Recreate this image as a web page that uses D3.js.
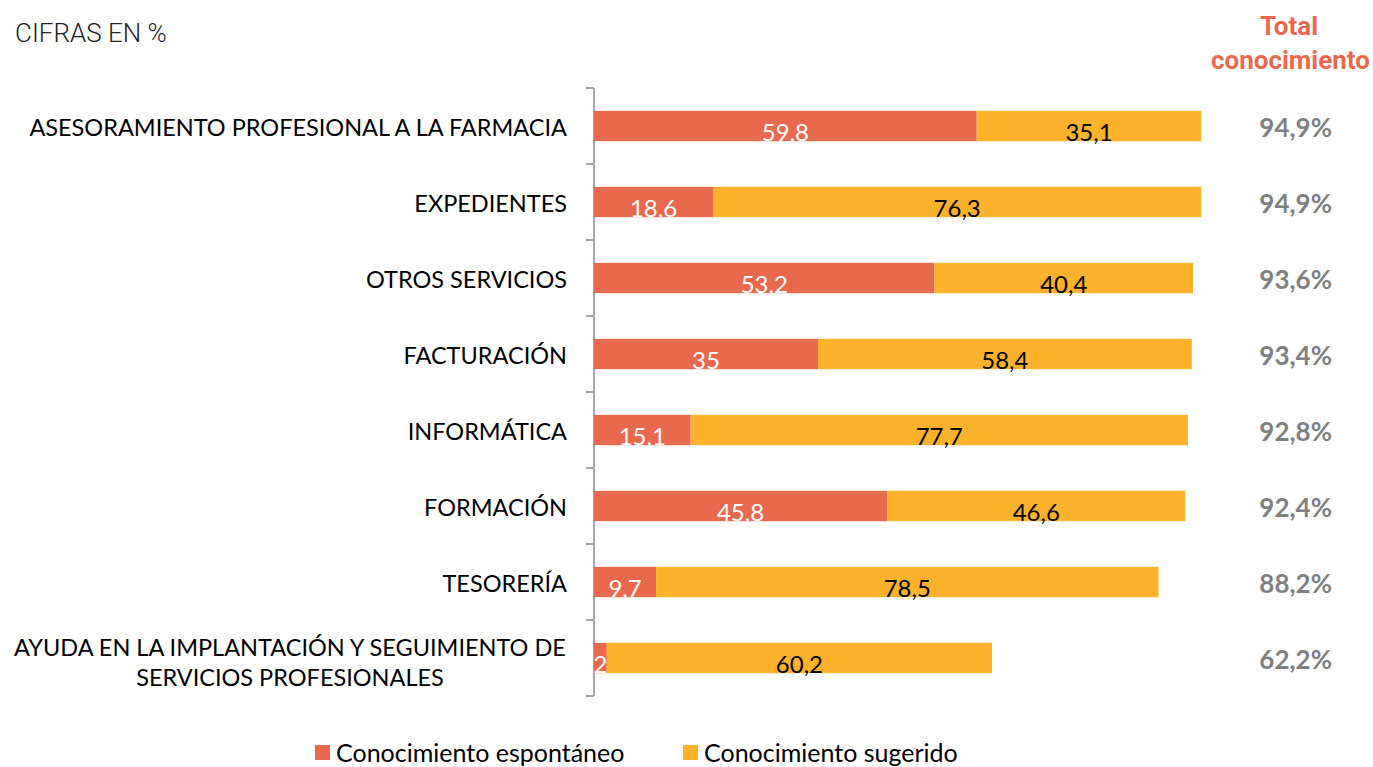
<!DOCTYPE html>
<html>
<head>
<meta charset="utf-8">
<script src="https://cdn.jsdelivr.net/npm/d3@7"></script>
<style>
  body { margin: 0; background: #fff; }
  svg { display: block; }
</style>
</head>
<body>
<svg id="chart" width="1373" height="767"></svg>
<script>
// data
const categories = [
  "ASESORAMIENTO PROFESIONAL A LA FARMACIA",
  "EXPEDIENTES",
  "OTROS SERVICIOS",
  "FACTURACIÓN",
  "INFORMÁTICA",
  "FORMACIÓN",
  "TESORERÍA",
  "AYUDA EN LA IMPLANTACIÓN Y SEGUIMIENTO DE|SERVICIOS PROFESIONALES"
];
const espontaneo = [59.8, 18.6, 53.2, 35, 15.1, 45.8, 9.7, 2];
const sugerido = [35.1, 76.3, 40.4, 58.4, 77.7, 46.6, 78.5, 60.2];
const totals = ["94,9%", "94,9%", "93,6%", "93,4%", "92,8%", "92,4%", "88,2%", "62,2%"];
const seriesNames = ["Conocimiento espontáneo", "Conocimiento sugerido"];
const colors = ["#E8694D", "#FDB22B"];

const fmt = (v) => String(v).replace(".", ",");

const svg = d3.select("#chart");
const font = "Lato, 'Open Sans', sans-serif";

const x = d3.scaleLinear().domain([0, 100]).range([594, 1234]);
const y = d3.scaleBand().domain(d3.range(categories.length)).range([88, 696]).paddingInner(0.6).paddingOuter(0.3);
const band = d3.scaleBand().domain(d3.range(categories.length)).range([88, 696]);

// axis line with tick marks at band edges
const axisG = svg.append("g");
axisG.append("line")
  .attr("x1", 594).attr("x2", 594)
  .attr("y1", band.range()[0]).attr("y2", band.range()[1])
  .attr("stroke", "#A6A6A6").attr("stroke-width", 2);
const edges = d3.range(categories.length + 1).map((i) => band.range()[0] + i * band.step());
axisG.selectAll("line.tick").data(edges).enter().append("line")
  .attr("class", "tick")
  .attr("x1", 586).attr("x2", 594)
  .attr("y1", (d) => d).attr("y2", (d) => d)
  .attr("stroke", "#A6A6A6").attr("stroke-width", 2);

// rows
const rows = categories.map((c, i) => ({ i, c, a: espontaneo[i], b: sugerido[i], t: totals[i] }));

const g = svg.append("g");
g.selectAll("rect.a").data(rows).enter().append("rect")
  .attr("x", x(0)).attr("y", (d) => y(d.i))
  .attr("width", (d) => x(d.a) - x(0)).attr("height", y.bandwidth())
  .attr("fill", colors[0]);
g.selectAll("rect.b").data(rows).enter().append("rect")
  .attr("x", (d) => x(d.a)).attr("y", (d) => y(d.i))
  .attr("width", (d) => x(d.a + d.b) - x(d.a)).attr("height", y.bandwidth())
  .attr("fill", colors[1]);

// value labels
g.selectAll("text.a").data(rows).enter().append("text")
  .attr("x", (d) => (x(0) + x(d.a)) / 2)
  .attr("y", (d) => y(d.i) + y.bandwidth())
  .attr("text-anchor", "middle")
  .attr("font-family", font).attr("font-size", 24)
  .attr("fill", "#fff")
  .text((d) => fmt(d.a));
g.selectAll("text.b").data(rows).enter().append("text")
  .attr("x", (d) => (x(d.a) + x(d.a + d.b)) / 2)
  .attr("y", (d) => y(d.i) + y.bandwidth())
  .attr("text-anchor", "middle")
  .attr("font-family", font).attr("font-size", 24)
  .attr("fill", "#000")
  .text((d) => fmt(d.b));

// category labels
rows.forEach((d) => {
  const lines = d.c.split("|");
  const cy = band(d.i) + band.step() / 2;
  if (lines.length === 1) {
    svg.append("text")
      .attr("x", 567).attr("y", cy + 10)
      .attr("text-anchor", "end")
      .attr("font-family", font).attr("font-size", 23.5).attr("fill", "#000")
      .text(lines[0]);
  } else {
    lines.forEach((l, k) => {
      svg.append("text")
        .attr("x", 290).attr("y", cy - 2 + k * 30)
        .attr("text-anchor", "middle")
        .attr("font-family", font).attr("font-size", 23.5).attr("fill", "#000")
        .text(l);
    });
  }
});

// totals column
svg.selectAll("text.total").data(rows).enter().append("text")
  .attr("x", 1332)
  .attr("y", (d) => band(d.i) + band.step() / 2 + 11)
  .attr("text-anchor", "end")
  .attr("font-family", font).attr("font-weight", "bold").attr("font-size", 26)
  .attr("fill", "#7F7F7F")
  .text((d) => d.t);

svg.append("text")
  .attr("x", 1289).attr("y", 35).attr("text-anchor", "middle")
  .attr("font-family", "Roboto, sans-serif").attr("font-weight", "bold").attr("font-size", 26)
  .attr("fill", "#E8694D").text("Total");
svg.append("text")
  .attr("x", 1370).attr("y", 69).attr("text-anchor", "end")
  .attr("font-family", "Roboto, sans-serif").attr("font-weight", "bold").attr("font-size", 26)
  .attr("fill", "#E8694D").text("conocimiento");

// subtitle
svg.append("text")
  .attr("x", 15).attr("y", 42)
  .attr("font-family", "Roboto, sans-serif").attr("font-weight", 300).attr("font-size", 26)
  .attr("fill", "#222").text("CIFRAS EN %");

// legend
const legendX = [315, 683];
const lg = svg.append("g");
seriesNames.forEach((n, k) => {
  lg.append("rect").attr("x", legendX[k]).attr("y", 745).attr("width", 15).attr("height", 15).attr("fill", colors[k]);
  lg.append("text").attr("x", legendX[k] + 21).attr("y", 762)
    .attr("font-family", font).attr("font-size", 25).attr("fill", "#000").text(n);
});
</script>
</body>
</html>
